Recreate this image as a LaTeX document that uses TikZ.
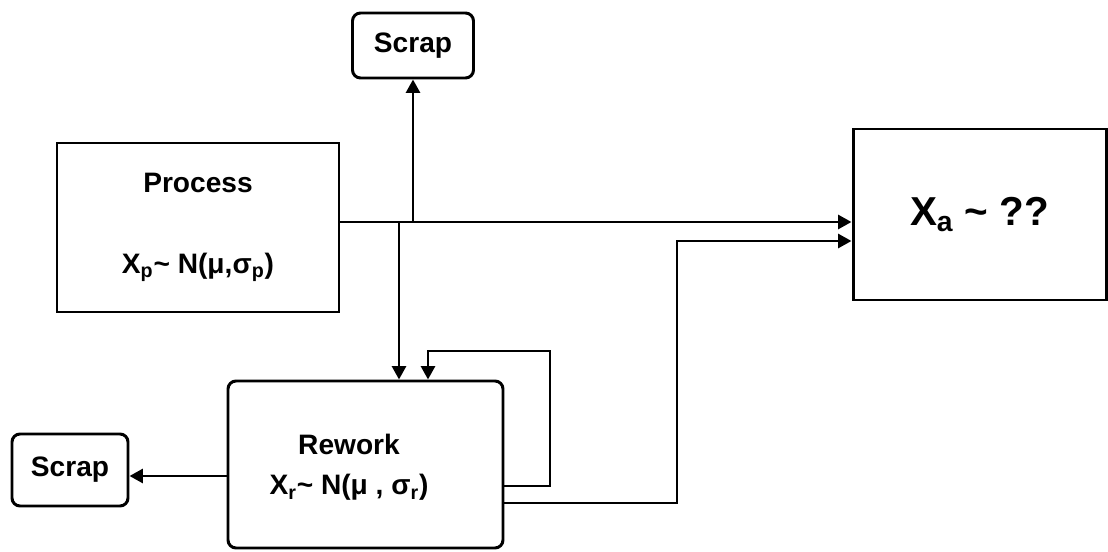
\documentclass[tikz,border=0pt]{standalone}
\usepackage{fontspec}
\setmainfont{Liberation Sans}
\usetikzlibrary{arrows.meta}

\begin{document}
\begin{tikzpicture}[
        lbl/.style={font=\bfseries\fontsize{16}{19}\selectfont, align=center},
        box/.style={lbl, draw, line width=1.7pt, inner sep=0pt},
        rbox/.style={box, rounded corners=0.16cm},
        flow/.style={line width=1.7pt, -{Triangle[length=0.27cm,width=0.28cm]}}
    ]
        \useasboundingbox (0,0) rectangle (22.16,11.02);

        % Draw the boxes
        \node[rbox, minimum width=2.42cm, minimum height=1.3cm] (scrapTop) at (8.26,10.11) {Scrap};
        \node[box, minimum width=5.64cm, minimum height=3.38cm] (process) at (3.96,6.47)
            {Process\\[27pt]X\textsubscript{p}\textasciitilde{} N(μ,σ\textsubscript{p})};
        \node[box, minimum width=5.06cm, minimum height=3.42cm, font=\bfseries\fontsize{23}{27}\selectfont] (xa) at (19.59,6.73)
            {X\textsubscript{a} \textasciitilde{} ??};
        \node[rbox, minimum width=5.5cm, minimum height=3.34cm] (rework) at (7.31,1.73) {};
        \node[lbl] (reworkTxt) at (6.98,1.68)
            {Rework\\[4pt]X\textsubscript{r}\textasciitilde{} N(μ , σ\textsubscript{r})};
        \node[rbox, minimum width=2.32cm, minimum height=1.44cm] (scrapLeft) at (1.4,1.62) {Scrap};

        % Process output and its two branches
        \coordinate (tap) at (8.26,6.58);
        \coordinate (split) at (7.98,6.58);
        \draw[flow] (process.east |- tap) -- (xa.west |- tap);
        \draw[flow] (tap) -- (scrapTop.south);
        \draw[flow] (split) -- (rework.north -| split);

        % Rework loop back, good parts out, scrap out
        \draw[flow] (rework.east |- 0,1.30) -| (11,4) -| (rework.north -| 8.56,0);
        \draw[flow] (rework.east |- 0,0.96) -| (13.54,6.20) -- (xa.west |- 0,6.20);
        \draw[flow] (rework.west |- 0,1.50) -- (scrapLeft.east |- 0,1.50);
\end{tikzpicture}
\end{document}
